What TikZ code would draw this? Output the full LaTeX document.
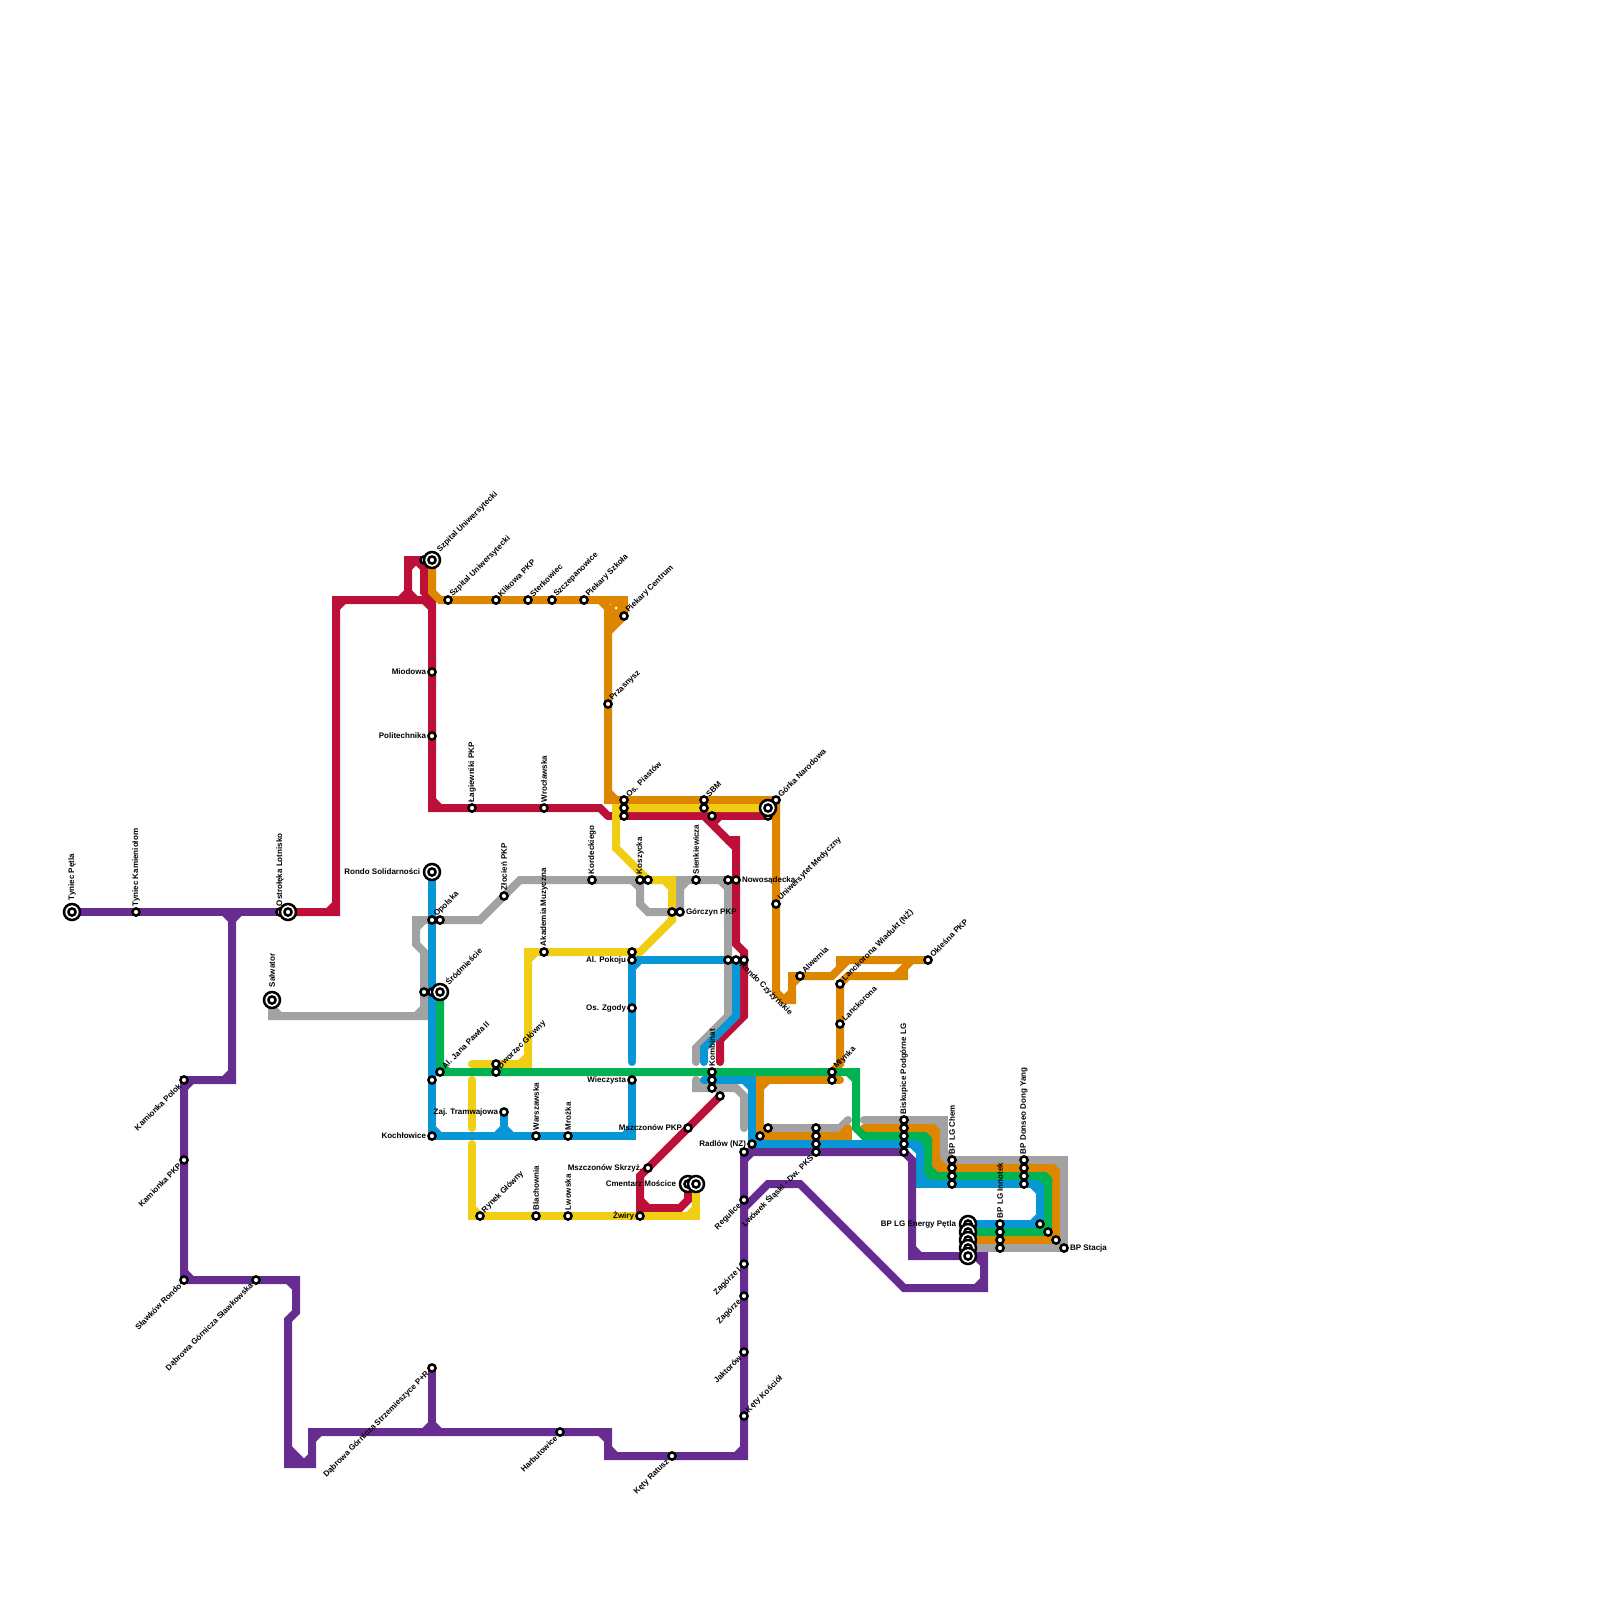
\documentclass[tikz,border=0pt]{standalone}
\usepackage{fontspec}
\setmainfont{Liberation Sans}
\usetikzlibrary{calc,backgrounds}
\definecolor{mred}{HTML}{BD1038}
\definecolor{morange}{HTML}{DF8600}
\definecolor{myellow}{HTML}{F0CE15}
\definecolor{mgreen}{HTML}{00B251}
\definecolor{mblue}{HTML}{0896D7}
\definecolor{mpurple}{HTML}{662C90}
\definecolor{mgray}{HTML}{A2A2A2}
\tikzset{
  stn/.style={circle,draw=black,fill=white,line width=1.25pt,minimum size=3.6pt,inner sep=0pt,outer sep=0pt},
  lbl/.style={font=\bfseries\fontsize{4}{5}\selectfont,text=black,inner sep=0pt,outer sep=0pt},
  lE/.style={lbl,xshift=#1,anchor=west},lE/.default=3pt,
  lW/.style={lbl,xshift=-#1,anchor=east},lW/.default=3pt,
  lN/.style={lbl,yshift=#1,rotate=90,anchor=west},lN/.default=3pt,
  lNE/.style={lbl,xshift=0.55*#1,yshift=0.75*#1,rotate=45,anchor=west},lNE/.default=3pt,
  lSW/.style={lbl,xshift=-0.67*#1,yshift=-0.83*#1,rotate=45,anchor=east},lSW/.default=3pt,
  lSE/.style={lbl,xshift=-1.5pt,yshift=-2pt,rotate=-45,anchor=west},
  mlc/.style={line width=4pt,line cap=round,line join=miter,miter limit=10},
}
% station, interchange, label
\newcommand{\st}[3]{\node[stn] (#1) at (#2,#3) {};}
\newcommand{\ist}[3]{\node[stn,minimum size=8pt] (#1) at (#2,#3) {};
  \node[stn] (#1i) at (#2,#3) {};}
\newcommand{\lab}[3]{\node[#2] (#1L) at (#1.center) {#3};}
% metro line: right-angle corners get a chamfer on the inner side
\makeatletter
\newcommand{\mlxy}[3]{\expandafter\tikz@scan@one@point\expandafter\pgfutil@firstofone#1\relax
  \edef#2{\pgf@sys@tonumber\pgf@x}\edef#3{\pgf@sys@tonumber\pgf@y}}
\makeatother
\newcommand{\ml}[2]{%
  \gdef\mlA{}\gdef\mlB{}\gdef\mlpath{}%
  \foreach \c in {#2}{%
    \ifx\mlpath\empty\xdef\mlpath{\c}\else\xdef\mlpath{\mlpath -- \c}\fi
    \ifx\mlA\empty\else
      \mlxy{\mlA}{\ax}{\ay}\mlxy{\mlB}{\bx}{\by}\mlxy{\c}{\cx}{\cy}%
      \pgfmathparse{abs(0.01*(\ax-\bx)*0.01*(\cx-\bx)+0.01*(\ay-\by)*0.01*(\cy-\by))}%
      \ifdim\pgfmathresult pt<0.001pt
        \edef\mltmp{\noexpand\draw[mlc,#1,line cap=butt] ($\mlB!4pt!\mlA$) -- ($\mlB!4pt!\c$);}\mltmp
      \fi
    \fi
    \global\let\mlA\mlB
    \xdef\mlB{\c}%
  }%
  \edef\mltmp{\noexpand\draw[mlc,#1] \mlpath;}\mltmp
}
\newcommand{\chev}[2]{\draw[mlc,#1,line cap=butt] #2;}
\begin{document}
\begin{tikzpicture}[x=0.5pt,y=-0.5pt]
\useasboundingbox (0,0) rectangle (1600,1600);
% ---------- stations ----------
\st{tk}{136}{912}\st{ostS}{280}{912}
\st{opA}{432}{920}\st{opB}{440}{920}
\st{zlocien}{504}{896}\st{akad}{544}{952}\st{korde}{592}{880}
\st{koszA}{640}{880}\st{koszB}{648}{880}
\st{gorA}{672}{912}\st{gorB}{680}{912}
\st{pokA}{632}{952}\st{pokB}{632}{960}\st{zgody}{632}{1008}\st{wiecz}{632}{1080}
\st{srA}{424}{992}\st{srB}{432}{992}
\st{jpII}{440}{1072}\st{jpB}{432}{1080}
\st{dwA}{496}{1064}\st{dwB}{496}{1072}
\st{zaj}{504}{1112}\st{koch}{432}{1136}\st{warsz}{536}{1136}\st{mroz}{568}{1136}
\st{mpkp}{688}{1128}\st{mskrz}{648}{1168}
\st{komA}{712}{1072}\st{komB}{712}{1080}\st{komC}{712}{1088}\st{komD}{720}{1096}
\st{sienk}{696}{880}\st{nowA}{728}{880}\st{nowB}{736}{880}
\st{rcA}{728}{960}\st{rcB}{736}{960}\st{rcC}{744}{960}
\st{lag}{472}{808}\st{wroc}{544}{808}
\st{piaA}{624}{800}\st{piaB}{624}{808}\st{piaC}{624}{816}
\st{sbmA}{704}{800}\st{sbmB}{704}{808}\st{sbmC}{712}{816}
\st{gn}{776}{800}\st{gnC}{768}{816}
\st{um}{776}{904}\st{alw}{800}{976}\st{lw}{840}{984}\st{lan}{840}{1024}
\st{mlyA}{832}{1072}\st{mlyB}{832}{1080}\st{okl}{928}{960}
\st{mie}{432}{672}\st{pol}{432}{736}\st{szpS}{424}{560}
\st{szp}{448}{600}\st{kli}{496}{600}\st{ster}{528}{600}\st{szcz}{552}{600}\st{pks}{584}{600}
\st{pc}{624}{616}\st{prz}{608}{704}
\st{rad}{752}{1144}\st{radB}{760}{1136}\st{radC}{768}{1128}
\st{lwA}{816}{1128}\st{lwB}{816}{1136}\st{lwC}{816}{1144}\st{lwD}{816}{1152}
\st{bpA}{904}{1120}\st{bpB}{904}{1128}\st{bpC}{904}{1136}\st{bpD}{904}{1144}\st{bpE}{904}{1152}
\st{chA}{952}{1160}\st{chB}{952}{1168}\st{chC}{952}{1176}\st{chD}{952}{1184}
\st{doA}{1024}{1160}\st{doB}{1024}{1168}\st{doC}{1024}{1176}\st{doD}{1024}{1184}
\st{inA}{1000}{1224}\st{inB}{1000}{1232}\st{inC}{1000}{1240}\st{inD}{1000}{1248}
\st{stA}{1040}{1224}\st{stB}{1048}{1232}\st{stC}{1056}{1240}\st{stD}{1064}{1248}
\st{kp}{184}{1080}\st{kpk}{184}{1160}\st{sr}{184}{1280}\st{dgs}{256}{1280}
\st{dgp}{432}{1368}\st{harb}{560}{1432}\st{kr}{672}{1456}
\st{kk}{744}{1416}\st{jak}{744}{1352}\st{zag}{744}{1296}\st{zagI}{744}{1264}
\st{reg}{744}{1200}\st{radP}{744}{1152}
\st{rg}{480}{1216}\st{blach}{536}{1216}\st{lwow}{568}{1216}\st{zw}{640}{1216}
\ist{tp}{72}{912}\ist{ost}{288}{912}\ist{salw}{272}{1000}
\ist{rs}{432}{872}\ist{srod}{440}{992}\ist{szpI}{432}{560}
\ist{gnI}{768}{808}\ist{cmA}{688}{1184}\ist{cmB}{696}{1184}
\ist{enA}{968}{1224}\ist{enB}{968}{1232}\ist{enC}{968}{1240}\ist{enD}{968}{1248}\ist{enE}{968}{1256}
% ---------- free ends ----------
\coordinate (eYa) at (472,1064);\coordinate (eYb) at (472,1080);\coordinate (eYc) at (472,1128);\coordinate (eYd) at (472,1144);
\coordinate (eBa) at (632,1062);\coordinate (eBb) at (704,1062);\coordinate (eBc) at (704,1080);
\coordinate (eGa) at (696,1062);\coordinate (eGb) at (696,1080);\coordinate (eGc) at (744,1128);
\coordinate (eGd) at (848,1120);\coordinate (eGe) at (864,1120);
\coordinate (eRa) at (720,1062);\coordinate (eRb) at (608,816);
\coordinate (eOa) at (840,1080);\coordinate (eOb) at (848,1128);\coordinate (eOc) at (864,1128);\coordinate (eOd) at (608,632);\coordinate (eOe) at (600,600);\coordinate (eOf) at (912,960);
% ---------- lines ----------
\begin{scope}[on background layer]
\fill[white] (0,0) rectangle (1600,1600);
% gray
\ml{mgray}{(salw.center),(272,1016),(424,1016),(424,952),(416,944),(416,920),(480,920),(520,880),(640,880),(640,904),(648,912),(gorA.center)}
\ml{mgray}{(gorB.center),(680,880),(728,880),(728,1016),(696,1048),(eGa)}
\ml{mgray}{(eGb),(696,1088),(736,1088),(744,1096),(eGc)}
\ml{mgray}{(radC.center),(840,1128),(eGd)}
\ml{mgray}{(eGe),(944,1120),(944,1160),(1064,1160),(1064,1248),(enD.center)}
% red
\ml{mred}{(ost.center),(336,912),(336,600),(432,600),(432,808),(600,808),(eRb)}
\ml{mred}{(eRb),(gnC.center)}
\ml{mred}{(408,600),(408,560),(424,560),(424,592),(432,600)}
\chev{mred}{(400,600)--(408,592)--(416,600)}
\ml{mred}{(704,816),(728,840),(736,840),(736,944),(744,952),(744,1016),(720,1040),(eRa)}
\chev{mred}{(712,824)--(720,816)}
\ml{mred}{(komD.center),(640,1176),(640,1208),(680,1208),(688,1200),(cmA.center)}
% orange
\ml{morange}{(szpI.center),(432,592),(440,600),(624,600),(pc.center),(eOd)}
\ml{morange}{(eOe),(608,608),(608,800),(776,800),(776,992),(784,1000),(792,1000),(792,976),(832,976),(840,968),(840,960),(okl.center)}
\fill[morange] (611,603) rectangle (621,624);
\fill[white] (616,608) circle[radius=1.5];
\ml{morange}{(mlyA.center),(840,1064),(840,984),(848,976),(904,976),(904,968),(eOf)}
\ml{morange}{(eOa),(760,1080),(760,1136),(848,1136),(eOb)}
\ml{morange}{(eOc),(936,1128),(936,1168),(1056,1168),(1056,1240),(enC.center)}
% blue
\ml{mblue}{(rs.center),(432,1136),(632,1136),(wiecz.center)}
\ml{mblue}{(eBa),(632,960),(rcA.center)}
\ml{mblue}{(rcB.center),(736,1016),(704,1048),(eBb)}
\ml{mblue}{(eBc),(752,1080),(752,1144),(920,1144),(920,1184),(1040,1184),(1040,1224),(enA.center)}
\ml{mblue}{(zaj.center),(504,1136)}
\chev{mblue}{(496,1136)--(504,1128)--(512,1136)}
% yellow
\ml{myellow}{(gnI.center),(616,808),(616,848),(648,880),(672,880),(672,920),(640,952),(528,952),(528,1064),(eYa)}
\ml{myellow}{(eYb),(eYc)}
\ml{myellow}{(eYd),(472,1216),(696,1216),(cmB.center)}
% green
\ml{mgreen}{(srod.center),(440,1072),(856,1072),(856,1128),(864,1136),(928,1136),(928,1176),(1048,1176),(1048,1232),(enB.center)}
% corner cuts where the four lines run nested
\chev{mgray}{(936,1120)--(944,1128)}
\chev{morange}{(928,1128)--(936,1136)}
\chev{mgreen}{(920,1136)--(928,1144)}
\chev{mblue}{(920,1176)--(928,1184)}
\chev{mgreen}{(928,1168)--(936,1176)}
\chev{morange}{(936,1160)--(944,1168)}
\chev{mgray}{(1056,1160)--(1064,1168)}
\chev{morange}{(1048,1168)--(1056,1176)}
\chev{mgreen}{(1040,1176)--(1048,1184)}
% purple
\ml{mpurple}{(tp.center),(ost.center)}
\chev{mpurple}{(224,912)--(232,920)--(240,912)}
\ml{mpurple}{(232,920),(232,1080),(184,1080),(184,1280),(296,1280),(296,1312),(288,1320),(288,1464),(312,1464),(312,1432),(608,1432),(608,1456),(744,1456),(744,1152),(904,1152),(912,1160),(912,1256),(984,1256),(984,1288),(904,1288),(800,1184),(768,1184),(744,1208)}
\chev{mpurple}{(288,1448)--(304,1464)}
\ml{mpurple}{(dgp.center),(432,1432)}
\chev{mpurple}{(424,1432)--(432,1424)--(440,1432)}
\end{scope}
% ---------- labels ----------
\lab{tp}{lN=6pt}{Tyniec Pętla}
\lab{tk}{lN}{Tyniec Kamieniołom}
\lab{ostS}{lN}{Ostrołęka Lotnisko}
\lab{salw}{lN=6.5pt}{Salwator}
\lab{rs}{lW=6pt}{Rondo Solidarności}
\lab{opA}{lNE}{Opolska}
\lab{srod}{lNE=6pt}{Śródmieście}
\lab{jpII}{lNE}{Al. Jana Pawła II}
\lab{zlocien}{lN}{Złocień PKP}
\lab{akad}{lN}{Akademia Muzyczna}
\lab{korde}{lN}{Kordeckiego}
\lab{koszA}{lN}{Koszycka}
\lab{gorB}{lE}{Górczyn PKP}
\lab{pokB}{lW}{Al. Pokoju}
\lab{zgody}{lW}{Os. Zgody}
\lab{wiecz}{lW}{Wieczysta}
\lab{dwB}{lNE}{Dworzec Główny}
\lab{zaj}{lW}{Zaj. Tramwajowa}
\lab{koch}{lW}{Kochłowice}
\lab{warsz}{lN}{Warszawska}
\lab{mroz}{lN}{Mrożka}
\lab{mpkp}{lW}{Mszczonów PKP}
\lab{mskrz}{lW}{Mszczonów Skrzyż.}
\lab{komA}{lN}{Kombinat}
\lab{sienk}{lN}{Sienkiewicza}
\lab{nowB}{lE}{Nowosądecka}
\lab{rcC}{lSE}{Rondo Czyżyńskie}
\lab{lag}{lN}{Łagiewniki PKP}
\lab{wroc}{lN}{Wrocławska}
\lab{piaA}{lNE}{Os. Piastów}
\lab{sbmA}{lNE}{SBM}
\lab{gn}{lNE}{Górka Narodowa}
\lab{um}{lNE}{Uniwersytet Medyczny}
\lab{alw}{lNE}{Alwernia}
\lab{lw}{lNE}{Lanckorona Wiadukt (NŻ)}
\lab{lan}{lNE}{Lanckorona}
\lab{mlyA}{lNE}{Młynka}
\lab{okl}{lNE}{Okleśna PKP}
\lab{mie}{lW}{Miodowa}
\lab{pol}{lW}{Politechnika}
\lab{szpI}{lNE=6pt}{Szpital Uniwersytecki}
\lab{szp}{lNE}{Szpital Uniwersytecki}
\lab{kli}{lNE}{Klikowa PKP}
\lab{ster}{lNE}{Sterkowiec}
\lab{szcz}{lNE}{Szczepanowice}
\lab{pks}{lNE}{Piekary Szkoła}
\lab{pc}{lNE}{Piekary Centrum}
\lab{prz}{lNE}{Przasnysz}
\lab{rad}{lW}{Radlów (NZ)}
\lab{lwD}{lSW}{Lwówek Śląski - Dw. PKS}
\lab{bpA}{lN}{Biskupice Podgórne LG}
\lab{chA}{lN}{BP LG Chem}
\lab{doA}{lN}{BP Donseo Dong Yang}
\lab{inA}{lN}{BP LG Innotek}
\lab{stD}{lE}{BP Stacja}
\lab{enA}{lW=6pt}{BP LG Energy Pętla}
\lab{kp}{lSW}{Kamionka Polok}
\lab{kpk}{lSW}{Kamionka PKP}
\lab{sr}{lSW}{Sławków Rondo}
\lab{dgs}{lSW}{Dąbrowa Górnicza Sławkowska}
\lab{dgp}{lSW}{Dąbrowa Górnicza Strzemieszyce P+R}
\lab{harb}{lSW}{Harbutowice}
\lab{kr}{lSW}{Kęty Ratusz}
\lab{kk}{lNE}{Kęty Kościół}
\lab{jak}{lSW}{Jaktorów}
\lab{zag}{lSW}{Zagórze}
\lab{zagI}{lSW}{Zagórze I}
\lab{reg}{lSW}{Regulice}
\lab{rg}{lNE}{Rynek Główny}
\lab{blach}{lN}{Blachownia}
\lab{lwow}{lN}{Lwowska}
\lab{zw}{lW}{Żwiry}
\lab{cmA}{lW=6pt}{Cmentarz Mościce}
\end{tikzpicture}
\end{document}
